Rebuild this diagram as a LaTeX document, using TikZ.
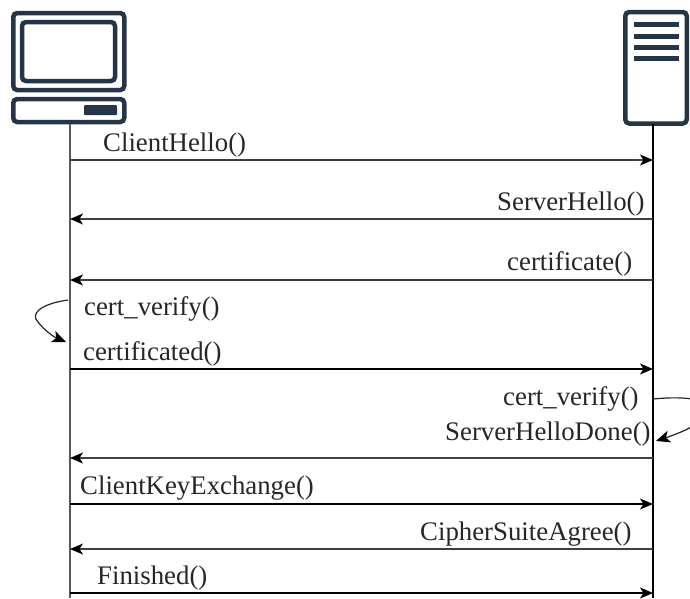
\documentclass[tikz,border=0pt]{standalone}
\usepackage{fontspec}
\setmainfont{Liberation Serif}
\usetikzlibrary{arrows.meta}
\definecolor{icon}{HTML}{253546}
\tikzset{
  x=1pt,y=-1pt,
  iconline/.style={draw=icon,line width=4.5pt,rounded corners=4pt,fill=white,outer sep=0pt,inner sep=0pt,anchor=north west},
  iconbar/.style={fill=icon,rounded corners=1pt,outer sep=0pt,inner sep=0pt,anchor=north west},
  lifeL/.style={draw=black!65,line width=2pt},
  lifeR/.style={draw=black,line width=2pt},
  msg/.style={draw=black!75,line width=1.5pt,-{Stealth[length=13pt,width=11pt,inset=3.5pt,color=black]}},
  selfmsg/.style={draw=black!85,line width=1.2pt,-{Stealth[length=14pt,width=12pt,inset=3.5pt,color=black]}},
  lbl/.style={font=\fontsize{26.8}{30}\selectfont,text=black!85,inner sep=0pt,anchor=base west}
}
\begin{document}
\begin{tikzpicture}
\useasboundingbox (0,0) rectangle (690,598);
% client icon
\node[iconline,minimum width=111pt,minimum height=77pt] (monitor) at (13.25,13) {};
\node[iconline,minimum width=93pt,minimum height=59pt] (screen) at (22,22) {};
\node[iconline,minimum width=111pt,minimum height=23pt] (base) at (13.25,99) {};
\node[iconbar,minimum width=33pt,minimum height=10pt] (slot) at (84,105) {};
% server icon
\node[iconline,minimum width=61.5pt,minimum height=111.5pt] (tower) at (625.25,12) {};
\foreach \yy/\nn in {21.5/a,33.5/b,44.5/c,55.5/d}
  \node[iconbar,rounded corners=0pt,minimum width=45pt,minimum height=5pt] (bar\nn) at (634,\yy) {};
% lifelines
\coordinate (cEnd) at (70,598);
\coordinate (sEnd) at (653,598);
\coordinate (cTop) at (70,124);
\coordinate (sTop) at (653,124);
\draw[lifeL] (cTop) -- (cEnd);
\draw[lifeR] (sTop) -- (sEnd);
% message anchor points
\foreach \n/\yy in {a/160,b/219,c/280,d/369,e/458,f/504,g/549,h/593}{
  \coordinate (c\n) at (70,\yy);
  \coordinate (s\n) at (653,\yy);
}
\draw[msg] (ca) -- (sa);
\draw[msg] (sb) -- (cb);
\draw[msg] (sc) -- (cc);
\draw[msg,draw=black] (cd) -- (sd);
\draw[msg] (se) -- (ce);
\draw[msg,draw=black] (cf) -- (sf);
\draw[msg] (sg) -- (cg);
\draw[msg,draw=black] (ch) -- (sh);
% self messages
\coordinate (cs1) at (68,300);
\coordinate (cs2) at (66,342);
\coordinate (ss1) at (653,399);
\coordinate (ss2) at (656,441);
\draw[selfmsg] (cs1) .. controls (40,304) and (30,314) .. (38,322) .. controls (44,330) and (54,337) .. (cs2);
\draw[selfmsg] (ss1) .. controls (725,392) and (725,418) .. (ss2);
% labels
\node[lbl] (l1) at (103,151) {ClientHello()};
\node[lbl] (l2) at (497,210) {ServerHello()};
\node[lbl] (l3) at (507,270) {certificate()};
\node[lbl] (l4) at (84,315) {cert\_verify()};
\node[lbl] (l5) at (83,360) {certificated()};
\node[lbl] (l6) at (503,405) {cert\_verify()};
\node[lbl] (l7) at (445,440) {ServerHelloDone()};
\node[lbl] (l8) at (80,494) {ClientKeyExchange()};
\node[lbl] (l9) at (420,540) {CipherSuiteAgree()};
\node[lbl] (l10) at (97,584) {Finished()};
\end{tikzpicture}
\end{document}
